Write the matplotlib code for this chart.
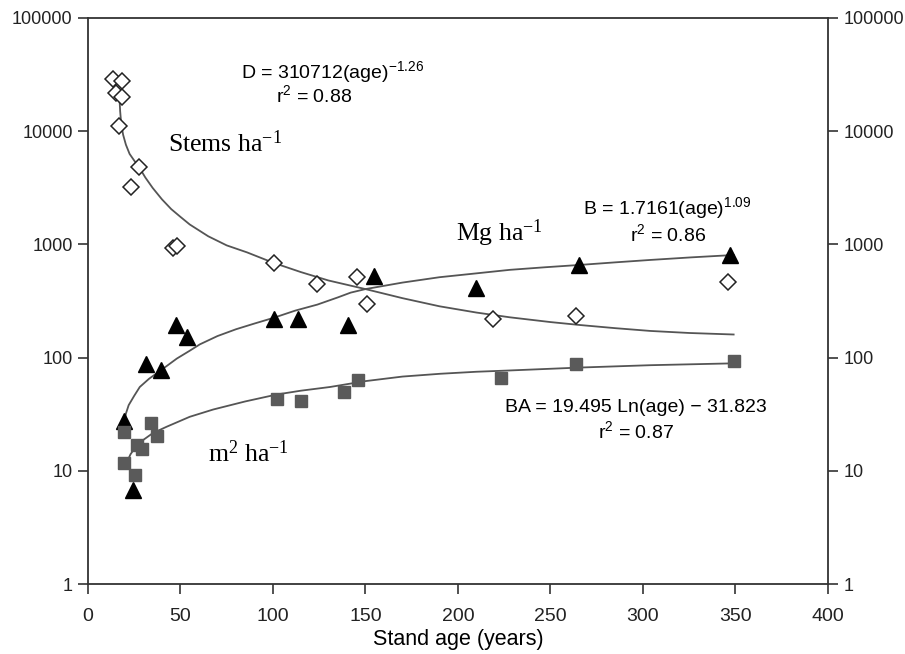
import numpy as np
import matplotlib
matplotlib.use('Agg')
import matplotlib.pyplot as plt
from matplotlib.ticker import FixedLocator, FixedFormatter, NullLocator

# stems per ha (open diamonds)
stem_age = [13.7, 18.6, 15.0, 18.2, 16.8, 27.7, 23.2, 46.0, 48.0, 100.5, 124.0, 145.5, 150.6, 219.0, 264.0, 346.0]
stem_val = [29000, 27500, 21700, 19900, 11200, 4800, 3200, 930, 970, 690, 450, 520, 295, 220, 235, 470]

# biomass Mg per ha (black triangles)
bio_age = [19.6, 24.3, 31.4, 39.3, 47.6, 53.3, 100.5, 113.3, 140.6, 154.5, 209.5, 265.5, 347.0]
bio_val = [27.7, 6.8, 88, 77, 196, 151, 221, 221, 196, 525, 415, 660, 800]

# basal area m2 per ha (grey squares)
ba_age = [19.6, 19.6, 25.4, 26.3, 29.0, 34.0, 37.1, 102.0, 115.0, 138.4, 146.0, 223.0, 264.0, 349.0]
ba_val = [21.9, 11.7, 9.1, 16.9, 15.6, 26.6, 20.5, 43.5, 41.0, 50.0, 64.0, 66.0, 88.0, 93.0]

# fitted curves
stem_fit_age = [17.0, 17.4, 18.0, 19.0, 20.5, 22.5, 25.0, 27.7, 31.0, 35.0, 40.0, 45.0, 50.0, 55.0,
                65.0, 75.0, 86.0, 100.0, 115.0, 130.0, 150.0, 170.0, 190.0, 210.0, 228.0, 250.0,
                266.0, 285.0, 304.0, 325.0, 349.0]
stem_fit_val = [20000, 15000, 11500, 9300, 7600, 6300, 5500, 4790, 3900, 3150, 2500, 2050, 1750, 1500,
                1180, 980, 850, 690, 570, 480, 403, 335, 284, 250, 227, 206,
                194, 182, 172, 165, 160]

bio_fit_age = [19.6, 20.5, 22.0, 25.0, 28.0, 33.0, 39.3, 48.0, 55.0, 60.5, 70.0, 80.0, 90.0, 100.5,
               112.0, 124.0, 135.0, 142.0, 150.0, 170.0, 190.0, 210.0, 228.0, 247.0, 266.0, 285.0,
               304.0, 326.0, 349.0]
bio_fit_val = [26, 32, 38, 46, 55, 65, 77, 98, 115, 131, 155, 178, 200, 225,
               260, 294, 340, 375, 403, 460, 513, 555, 596, 628, 659, 694,
               729, 768, 806]

ba_fit_age = [19.6, 20.9, 23.0, 26.0, 29.0, 35.0, 42.5, 55.0, 67.7, 85.0, 102.0, 115.0, 130.8,
              150.0, 170.0, 190.5, 210.0, 228.0, 266.0, 304.0, 349.0]
ba_fit_val = [10.5, 11.8, 14.0, 16.5, 18.3, 21.5, 24.5, 30.0, 34.8, 41.0, 47.2, 51.0, 55.0,
              62.0, 68.0, 72.0, 75.0, 77.0, 81.7, 85.7, 89.0]

yticks = [1, 10, 100, 1000, 10000, 100000]
xticks = [0, 50, 100, 150, 200, 250, 300, 350, 400]

sans = ['Liberation Sans', 'DejaVu Sans']
serif = ['Liberation Serif', 'DejaVu Serif']

fig = plt.figure(figsize=(9.05, 6.54), dpi=100)
ax = fig.add_axes([0.0972, 0.107, 0.8177, 0.8655])

line_c = '#555555'
ax.plot(stem_fit_age, stem_fit_val, color=line_c, lw=1.3)
ax.plot(bio_fit_age, bio_fit_val, color=line_c, lw=1.3)
ax.plot(ba_fit_age, ba_fit_val, color=line_c, lw=1.3)

ax.plot(stem_age, stem_val, linestyle='none', marker='D', ms=8.5, mfc='white', mec='#222222', mew=1.1)
ax.plot(bio_age, bio_val, linestyle='none', marker='^', ms=11.5, mfc='black', mec='black')
ax.plot(ba_age, ba_val, linestyle='none', marker='s', ms=9, mfc='#5a5a5a', mec='#5a5a5a')

ax.set_yscale('log')
ax.set_xlim(0, 400)
ax.set_ylim(1, 100000)
ax.yaxis.set_major_locator(FixedLocator(yticks))
ax.yaxis.set_major_formatter(FixedFormatter([str(v) for v in yticks]))
ax.yaxis.set_minor_locator(NullLocator())
ax.set_xticks(xticks)
ax.tick_params(axis='both', direction='out', length=7, width=1.1,
               right=True, labelright=True, colors='#222222')
ax.tick_params(axis='x', pad=10, labelsize=14)
ax.tick_params(axis='y', pad=4, labelsize=13)
for lab in ax.get_xticklabels() + ax.get_yticklabels():
    lab.set_family(sans)
for s in ax.spines.values():
    s.set_linewidth(1.3)
    s.set_color('#333333')

ax.set_xlabel('Stand age (years)', fontsize=15.5, family=sans, labelpad=3)

# annotations
eq = 14
ax.text(132, 33000, r'D = 310712(age)$\mathregular{^{-1.26}}$', fontsize=eq, family=sans, ha='center', va='center')
ax.text(122, 20700, r'r$\mathregular{^{2}}$ = 0.88', fontsize=eq, family=sans, ha='center', va='center')
ax.text(43.5, 7800, r'Stems ha$\mathregular{^{-1}}$', fontsize=18.5, family=serif, ha='left', va='center')
ax.text(199, 1250, r'Mg ha$\mathregular{^{-1}}$', fontsize=18.5, family=serif, ha='left', va='center')
ax.text(313, 2080, r'B = 1.7161(age)$\mathregular{^{1.09}}$', fontsize=eq, family=sans, ha='center', va='center')
ax.text(313.5, 1230, r'r$\mathregular{^{2}}$ = 0.86', fontsize=eq, family=sans, ha='center', va='center')
ax.text(296, 36.5, 'BA = 19.495 Ln(age) \u2212 31.823', fontsize=eq, family=sans, ha='center', va='center')
ax.text(296, 22.4, r'r$\mathregular{^{2}}$ = 0.87', fontsize=eq, family=sans, ha='center', va='center')
ax.text(65, 14.3, r'm$\mathregular{^{2}}$ ha$\mathregular{^{-1}}$', fontsize=18.5, family=serif, ha='left', va='center')

fig.savefig('out.png', dpi=100)
